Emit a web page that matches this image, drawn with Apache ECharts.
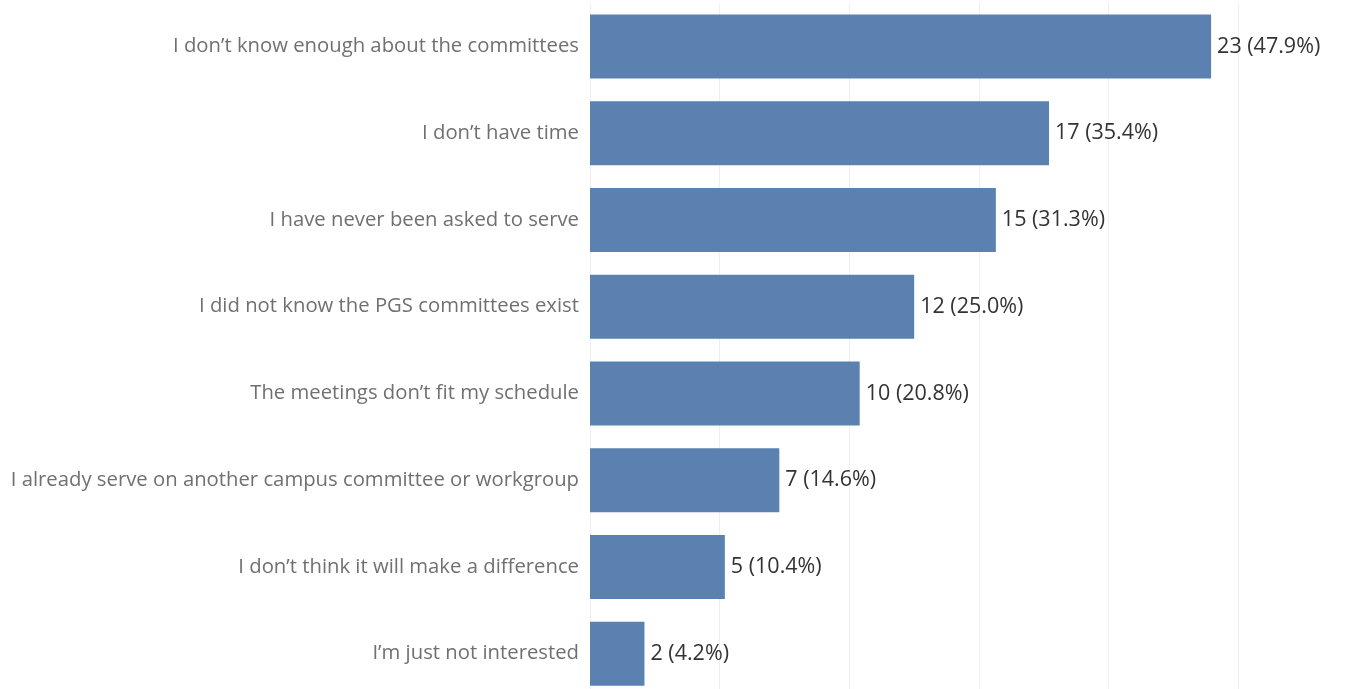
<!DOCTYPE html>
<html>
<head>
<meta charset="utf-8">
<script src="https://cdn.jsdelivr.net/npm/echarts@6/dist/echarts.min.js"></script>
<style>
html,body{margin:0;padding:0;background:#fff;overflow:hidden;width:1364px;height:689px;}
#chart{width:1368px;height:697px;}
</style>
</head>
<body>
<div id="chart"></div>
<script>
const categories = [
  "I don\u2019t know enough about the committees",
  "I don\u2019t have time",
  "I have never been asked to serve",
  "I did not know the PGS committees exist",
  "The meetings don\u2019t fit my schedule",
  "I already serve on another campus committee or workgroup",
  "I don\u2019t think it will make a difference",
  "I\u2019m just not interested"
];
const counts = [23, 17, 15, 12, 10, 7, 5, 2];
const percents = [47.9, 35.4, 31.3, 25.0, 20.8, 14.6, 10.4, 4.2];

const chart = echarts.init(document.getElementById('chart'));
chart.setOption({
  animation: false,
  grid: { left: 590, top: 3, right: 0, bottom: 0, containLabel: false },
  xAxis: {
    type: 'value', min: 0, max: 60, interval: 10,
    axisLabel: { show: false },
    axisLine: { show: false },
    axisTick: { show: false },
    splitLine: { show: true, showMinLine: true, showMaxLine: false, lineStyle: { color: '#efefef', width: 1 } }
  },
  yAxis: {
    type: 'category', data: categories, inverse: true,
    axisLine: { show: false },
    axisTick: { show: false },
    axisLabel: { margin: 11, color: '#707070', fontSize: 20.3, fontFamily: 'Open Sans' }
  },
  series: [{
    type: 'bar',
    data: percents,
    barWidth: 64,
    itemStyle: { color: '#5b81b1' },
    label: {
      show: true, position: 'right', distance: 6,
      color: '#333333', fontSize: 21.5, fontFamily: 'Open Sans',
      formatter: p => counts[p.dataIndex] + ' (' + percents[p.dataIndex].toFixed(1) + '%)'
    }
  }]
});
</script>
</body>
</html>
